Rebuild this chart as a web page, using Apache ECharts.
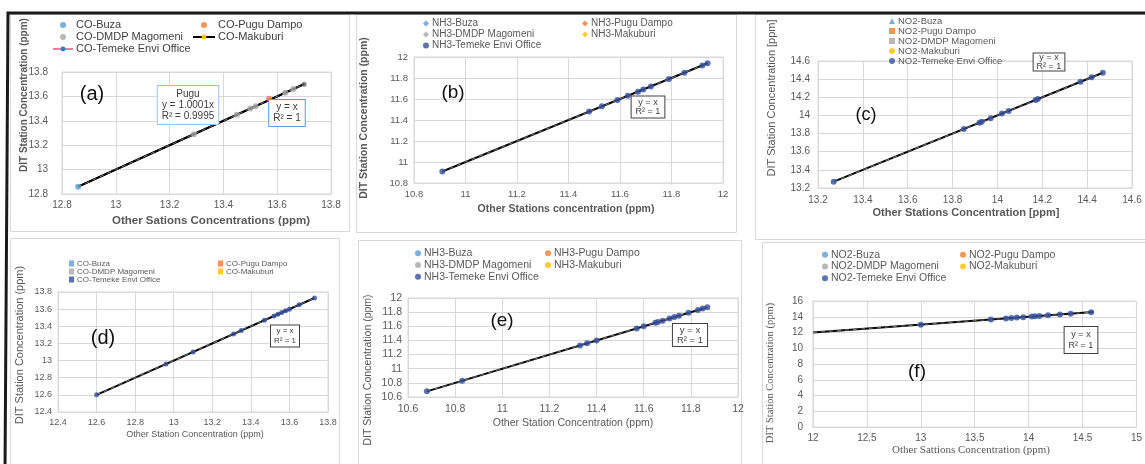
<!DOCTYPE html>
<html><head><meta charset="utf-8">
<script src="https://cdn.jsdelivr.net/npm/echarts@6/dist/echarts.min.js"></script>
<style>html,body{margin:0;padding:0;background:#fff}#c{width:1145px;height:464px}</style>
</head><body><div id="c"></div><script>
// ---------------- DATA ----------------
// axis ranges [min, max, interval]
const aXRange = [12.8, 13.8, 0.2], aYRange = [12.8, 13.8, 0.2];
const bXRange = [10.8, 12, 0.2],   bYRange = [10.8, 12, 0.2];
const cXRange = [13.2, 14.6, 0.2], cYRange = [13.2, 14.6, 0.2];
const dXRange = [12.4, 13.8, 0.2], dYRange = [12.4, 13.8, 0.2];
const eXRange = [10.6, 12, 0.2],   eYRange = [10.6, 12, 0.2];
const fXRange = [12, 15, 0.5],     fYRange = [0, 16, 2];

// station names
const coNames  = ['CO-Buza', 'CO-Pugu Dampo', 'CO-DMDP Magomeni', 'CO-Makuburi', 'CO-Temeke Envi Office'];
const nh3Names = ['NH3-Buza', 'NH3-Pugu Dampo', 'NH3-DMDP Magomeni', 'NH3-Makuburi', 'NH3-Temeke Envi Office'];
const no2Names = ['NO2-Buza', 'NO2-Pugu Dampo', 'NO2-DMDP Magomeni', 'NO2-Makuburi', 'NO2-Temeke Envi Office'];

// (a) CO, other stations (x) vs DIT station (y)
const aBuzaX   = [12.86];                         const aBuzaY   = [12.86];
const aPuguX   = [13.57];                         const aPuguY   = [13.58];
const aDmdpX   = [13.29, 13.45, 13.50, 13.52, 13.63, 13.66]; const aDmdpY = [13.29, 13.45, 13.50, 13.52, 13.63, 13.66];
const aMakuX   = [12.86, 13.29, 13.40, 13.57, 13.70];        const aMakuY = [12.86, 13.29, 13.40, 13.57, 13.70];
const aTemekeX = [12.86, 13.40, 13.70];           const aTemekeY = [12.86, 13.40, 13.70];
const aTrendX  = [12.86, 13.70];                  const aTrendY  = [12.86, 13.70];

// (b) NH3
const bTemekeX = [10.91, 11.48, 11.53, 11.59, 11.63, 11.67, 11.69, 11.72, 11.79, 11.85, 11.92, 11.94];
const bTemekeY = [10.91, 11.48, 11.53, 11.59, 11.63, 11.67, 11.69, 11.72, 11.79, 11.85, 11.92, 11.94];
const bTrendX  = [10.91, 11.94];                  const bTrendY  = [10.91, 11.94];

// (c) NO2
const cTemekeX = [13.27, 13.85, 13.92, 13.93, 13.97, 14.02, 14.05, 14.17, 14.18, 14.37, 14.42, 14.47];
const cTemekeY = [13.27, 13.85, 13.92, 13.93, 13.97, 14.02, 14.05, 14.17, 14.18, 14.37, 14.42, 14.47];
const cTrendX  = [13.27, 14.47];                  const cTrendY  = [13.27, 14.47];

// (d) CO
const dTemekeX = [12.60, 12.96, 13.10, 13.31, 13.35, 13.47, 13.52, 13.54, 13.56, 13.58, 13.60, 13.65, 13.73];
const dTemekeY = [12.60, 12.96, 13.10, 13.31, 13.35, 13.47, 13.52, 13.54, 13.56, 13.58, 13.60, 13.65, 13.73];
const dTrendX  = [12.60, 13.73];                  const dTrendY  = [12.60, 13.73];

// (e) NH3
const eTemekeX = [10.68, 10.83, 11.33, 11.36, 11.40, 11.57, 11.60, 11.65, 11.66, 11.68, 11.71, 11.73, 11.75, 11.79, 11.83, 11.85, 11.87];
const eTemekeY = [10.68, 10.83, 11.33, 11.36, 11.40, 11.57, 11.60, 11.65, 11.66, 11.68, 11.71, 11.73, 11.75, 11.79, 11.83, 11.85, 11.87];
const eTrendX  = [10.68, 11.87];                  const eTrendY  = [10.68, 11.87];

// (f) NO2
const fTemekeX = [13.00, 13.65, 13.79, 13.84, 13.89, 13.95, 14.03, 14.06, 14.10, 14.18, 14.29, 14.39, 14.58];
const fTemekeY = [13.00, 13.65, 13.79, 13.84, 13.89, 13.95, 14.03, 14.06, 14.10, 14.18, 14.29, 14.39, 14.58];
const fTrendX  = [12.00, 14.60];                  const fTrendY  = [12.00, 14.60];

// ---------------- CHART ----------------
const COL = { buza: '#5B9BD5', pugu: '#ED7D31', dmdp: '#A5A5A5', maku: '#FFC000', temeke: '#34509C', pink: '#F07CA0' };
const stationCols = [COL.buza, COL.pugu, COL.dmdp, COL.maku, COL.temeke];
const FONT = 'Liberation Sans';
const pairs = (xs, ys) => xs.map((x, i) => [x, ys[i]]);

const grids = [
  { left: 62, top: 72, width: 269, height: 122 },
  { left: 414, top: 57, width: 309, height: 126 },
  { left: 818, top: 61, width: 314, height: 127 },
  { left: 58, top: 292, width: 270, height: 120 },
  { left: 408, top: 298, width: 330, height: 99 },
  { left: 813, top: 301, width: 329, height: 126 }
].map(g => Object.assign({ show: true, borderColor: '#d9d9d9', borderWidth: 1, backgroundColor: 'transparent' }, g));

function axis(i, r, fs, margin) {
  return {
    type: 'value', gridIndex: i, min: r[0], max: r[1], interval: r[2],
    axisLine: { show: true, lineStyle: { color: '#d9d9d9' } },
    axisTick: { show: false },
    splitLine: { show: true, lineStyle: { color: '#d9d9d9' } },
    axisLabel: { color: '#595959', fontSize: fs, margin: margin, fontFamily: FONT }
  };
}
const xAxes = [axis(0, aXRange, 10, 6), axis(1, bXRange, 9.5, 6), axis(2, cXRange, 10, 7),
               axis(3, dXRange, 9, 6), axis(4, eXRange, 10.5, 7), axis(5, fXRange, 10, 6)];
const yAxes = [axis(0, aYRange, 10, 14), axis(1, bYRange, 9.5, 6), axis(2, cYRange, 10, 8),
               axis(3, dYRange, 9, 6), axis(4, eYRange, 10.5, 6), axis(5, fYRange, 10, 10)];

const series = [];
function trend(i, xs, ys) {
  series.push({ type: 'line', name: 'trend' + i, xAxisIndex: i, yAxisIndex: i, data: pairs(xs, ys),
    symbol: 'none', lineStyle: { color: '#000', width: 2 }, z: 3, silent: true });
  series.push({ type: 'line', name: 'trendd' + i, xAxisIndex: i, yAxisIndex: i, data: pairs(xs, ys),
    symbol: 'none', lineStyle: { color: '#777', width: 1, type: [4, 4] }, z: 4, silent: true });
}
function scatter(i, name, xs, ys, color, size, sym) {
  series.push({ type: 'scatter', name: name, xAxisIndex: i, yAxisIndex: i, data: pairs(xs, ys),
    symbol: sym || 'circle', symbolSize: size, itemStyle: { color: color }, z: 5 });
}

// (a)
series.push({ type: 'line', name: 'a|' + coNames[4], xAxisIndex: 0, yAxisIndex: 0, data: pairs(aTemekeX, aTemekeY),
  symbol: 'circle', symbolSize: 5, showSymbol: false, lineStyle: { color: COL.pink, width: 1.5 }, itemStyle: { color: '#4472C4' }, z: 2 });
series.push({ type: 'line', name: 'a|' + coNames[3], xAxisIndex: 0, yAxisIndex: 0, data: pairs(aMakuX, aMakuY),
  symbol: 'circle', symbolSize: 5, showSymbol: false, lineStyle: { color: '#000', width: 2 }, itemStyle: { color: COL.maku }, z: 3 });
trend(0, aTrendX, aTrendY);
scatter(0, 'a|' + coNames[0], aBuzaX, aBuzaY, COL.buza, 6);
scatter(0, 'a|' + coNames[2], aDmdpX, aDmdpY, COL.dmdp, 6);
scatter(0, 'a|' + coNames[1], aPuguX, aPuguY, COL.pugu, 6);
scatter(0, 'a|temekeEnd', [aTemekeX[aTemekeX.length - 1]], [aTemekeY[aTemekeY.length - 1]], '#666', 5);

// (b)-(f)
const panels = [
  { k: 'b', i: 1, names: nh3Names, tx: bTemekeX, ty: bTemekeY, trx: bTrendX, try_: bTrendY, size: 6 },
  { k: 'c', i: 2, names: no2Names, tx: cTemekeX, ty: cTemekeY, trx: cTrendX, try_: cTrendY, size: 6 },
  { k: 'd', i: 3, names: coNames,  tx: dTemekeX, ty: dTemekeY, trx: dTrendX, try_: dTrendY, size: 5 },
  { k: 'e', i: 4, names: nh3Names, tx: eTemekeX, ty: eTemekeY, trx: eTrendX, try_: eTrendY, size: 6 },
  { k: 'f', i: 5, names: no2Names, tx: fTemekeX, ty: fTemekeY, trx: fTrendX, try_: fTrendY, size: 6 }
];
panels.forEach(p => {
  trend(p.i, p.trx, p.try_);
  for (let s = 0; s < 4; s++) scatter(p.i, p.k + '|' + p.names[s], [], [], stationCols[s], 6);
  scatter(p.i, p.k + '|' + p.names[4], p.tx, p.ty, COL.temeke, p.size);
});

// legends
function leg(k, names, left, top, fs, lh, iw, icons, color) {
  return {
    orient: 'vertical', left: left, top: top, padding: 0, itemGap: 0,
    itemWidth: iw, itemHeight: 6, selectedMode: false,
    textStyle: { fontSize: fs, lineHeight: lh, height: lh, color: color || '#595959', fontFamily: FONT, padding: [0, 0, 0, -2] },
    formatter: n => n.slice(2),
    data: names.map((n, j) => icons && icons[j] ? { name: k + '|' + n, icon: icons[j] } : { name: k + '|' + n })
  };
}
const legends = [
  leg('a', [coNames[0], coNames[2], coNames[4]], 52, 19, 11, 12, 20, ['circle', 'circle', null], '#404040'),
  leg('a', [coNames[1], coNames[3]], 192, 19, 11, 12, 22, ['circle', null], '#404040'),
  leg('b', [nh3Names[0], nh3Names[2], nh3Names[4]], 423, 18, 10, 11, 6, ['diamond', 'diamond', 'circle']),
  leg('b', [nh3Names[1], nh3Names[3]], 582, 18, 10, 11, 6, ['diamond', 'diamond']),
  leg('c', no2Names, 889, 16, 9.5, 9.2, 6, ['triangle', 'rect', 'rect', 'circle', 'circle']),
  leg('d', [coNames[0], coNames[2], coNames[4]], 69, 259.5, 8, 7.3, 5, ['rect', 'rect', 'rect']),
  leg('d', [coNames[1], coNames[3]], 218, 259.5, 8, 7.3, 5, ['rect', 'rect']),
  leg('e', [nh3Names[0], nh3Names[2], nh3Names[4]], 415, 247.5, 10.5, 11.7, 6, ['circle', 'circle', 'circle']),
  leg('e', [nh3Names[1], nh3Names[3]], 545, 247.5, 10.5, 11.7, 6, ['circle', 'circle']),
  leg('f', [no2Names[0], no2Names[2], no2Names[4]], 822, 249, 10.5, 11.7, 6, ['circle', 'circle', 'circle']),
  leg('f', [no2Names[1], no2Names[3]], 960, 249, 10.5, 11.7, 6, ['circle', 'circle'])
];

// graphics: frames, titles, labels, equation boxes
const G = [];
function frame(x, y, w, h) { G.push({ type: 'rect', shape: { x, y, width: w, height: h }, style: { fill: 'none', stroke: '#d9d9d9', lineWidth: 1 }, z: -1 }); }
frame(10.5, 14.5, 339, 217); frame(356.5, 14.5, 380, 218); frame(755.5, 14.5, 400, 225);
frame(10.5, 238.5, 329, 240); frame(358.5, 240.5, 383, 240); frame(762.5, 242.5, 400, 240);
G.push({ type: 'polyline', shape: { points: [[1150, 13], [8, 13], [5, 470]] }, style: { fill: 'none', stroke: '#1a1a1a', lineWidth: 3 }, z: 10 });

function txt(t, x, y, fs, opts) {
  opts = opts || {};
  G.push({ type: 'text', x, y, rotation: opts.rot ? Math.PI / 2 : 0, z: 20,
    style: { text: t, fontSize: fs, fontFamily: opts.fam || FONT, fontWeight: opts.bold ? 'bold' : 'normal',
      fill: opts.color || '#595959', align: 'center', verticalAlign: 'middle' } });
}
// x titles
txt('Other Sations Concentrations (ppm)', 211, 221, 11.5, { bold: true });
txt('Other Stations concentration (ppm)', 566, 209, 10.5, { bold: true });
txt('Other Stations Concentration [ppm]', 966, 213, 11, { bold: true });
txt('Other Station Concentration (ppm)', 195, 435, 9);
txt('Other Station Concentration (ppm)', 573, 423, 10.5);
txt('Other Sattions Concentration (ppm)', 971, 450, 11, { fam: 'Liberation Serif' });
// y titles
txt('DIT Station Concentration (ppm)', 24, 95, 10, { rot: true, bold: true });
txt('DIT Station Concentration (ppm)', 364, 118, 10.5, { rot: true, bold: true });
txt('DIT Station Concentration [ppm]', 772, 98, 11, { rot: true });
txt('DIT Station Concentration (ppm)', 20, 345, 11, { rot: true });
txt('DIT Station Concentration (ppm)', 368, 370, 10.5, { rot: true });
txt('DIT Station Concentration (ppm)', 770, 373, 10.5, { rot: true, fam: 'Liberation Serif' });
// panel labels
txt('(a)', 92, 94, 20, { color: '#111' });
txt('(b)', 453, 93, 19, { color: '#111' });
txt('(c)', 866, 115, 18, { color: '#111' });
txt('(d)', 103, 338, 20, { color: '#111' });
txt('(e)', 502, 321, 19, { color: '#111' });
txt('(f)', 917, 372, 19, { color: '#111' });

function box(t, x, y, fs, lh, pad, border) {
  G.push({ type: 'text', x, y, z: 21,
    style: { text: t, fontSize: fs, lineHeight: lh, fontFamily: FONT, fill: '#404040', align: 'center', verticalAlign: 'middle',
      backgroundColor: '#fff', borderColor: border, borderWidth: 1, padding: pad } });
}
box('Pugu\ny = 1.0001x\nR² = 0.9995', 188, 105, 10, 11, [3, 4, 2, 4], '#9DC3E6');
box('y = x\nR² = 1', 287, 113, 10, 11, [2, 4, 2, 4], '#5B9BD5');
box('y = x\nR² = 1', 648, 107, 9, 9.5, [1, 4, 1, 4], '#404040');
box('y = x\nR² = 1', 1049, 62, 9, 8.5, [0, 3, 0, 3], '#404040');
box('y = x\nR² = 1', 285, 336, 8, 9.5, [1, 3, 1, 3], '#404040');
box('y = x\nR² = 1', 690, 335, 9.5, 10, [1, 4, 1, 4], '#404040');
box('y = x\nR² = 1', 1081, 340, 9, 11, [2, 4, 2, 4], '#404040');

const chart = echarts.init(document.getElementById('c'), null, { renderer: 'canvas' });
chart.setOption({
  animation: false,
  backgroundColor: '#fff',
  textStyle: { fontFamily: FONT },
  grid: grids, xAxis: xAxes, yAxis: yAxes,
  legend: legends,
  series: series,
  graphic: G
});
</script></body></html>
